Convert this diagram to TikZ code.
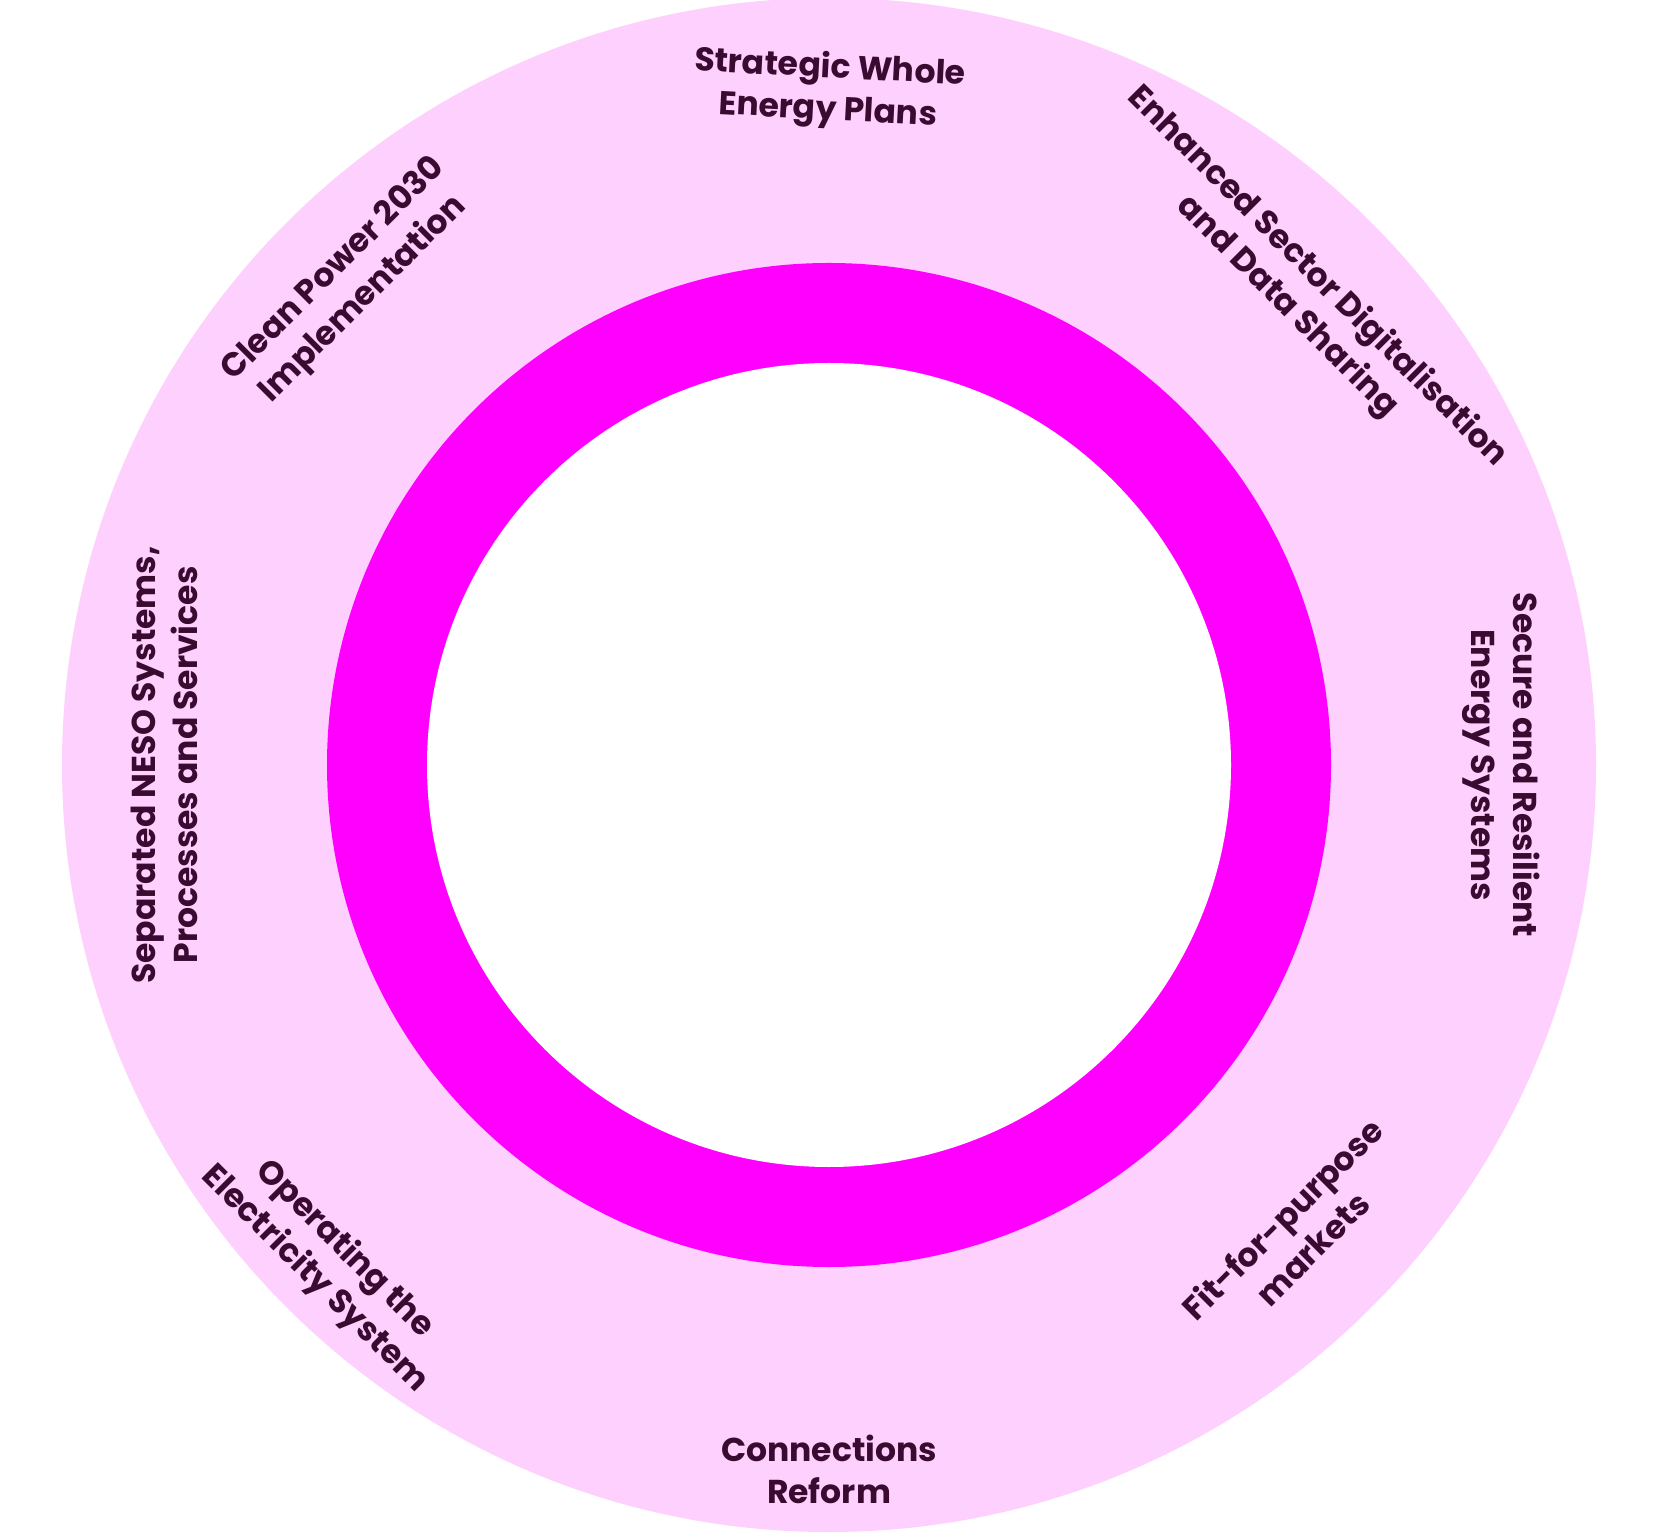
\documentclass[tikz,border=0pt]{standalone}
\usepackage{fontspec}
\setmainfont{Poppins}
\usetikzlibrary{calc}
\definecolor{ringpale}{HTML}{FDD0FD}
\definecolor{ringmag}{HTML}{FF00FF}
\definecolor{labeltext}{HTML}{3A0A30}
\begin{document}
\begin{tikzpicture}[x=1cm, y=1cm]

\tikzset{theme/.style={text=labeltext, font=\bfseries\fontsize{9.4}{12.0}\selectfont, align=center}}

\useasboundingbox (0,0) rectangle (16.54,15.35);

\coordinate (hub) at (8.29,7.70);

\fill[ringpale] (hub) circle (7.67);
\fill[ringmag] (hub) circle (5.02);
\fill[white] (hub) circle (4.02);

\node[theme, rotate=-3] (plans) at ($ (hub) + (90:6.75) $) {Strategic Whole\\Energy Plans};
\node[theme, rotate=-45] (digital) at ($ (hub) + (45:6.69) $) {Enhanced Sector Digitalisation\\and Data Sharing};
\node[theme, rotate=-90] (secure) at ($ (hub) + (0:6.72) $) {Secure and Resilient\\Energy Systems};
\node[theme, rotate=45] (markets) at ($ (hub) + (-45:6.62) $) {Fit-for-purpose\\markets};
\node[theme] (reform) at ($ (hub) + (-90:7.04) $) {Connections\\Reform};
\node[theme, rotate=-45] (operate) at ($ (hub) + (-135:7.06) $) {Operating the\\Electricity System};
\node[theme, rotate=90] (neso) at ($ (hub) + (180:6.65) $) {Separated NESO Systems,\\Processes and Services};
\node[theme, rotate=45] (clean) at ($ (hub) + (135:6.79) $) {Clean Power 2030\\Implementation};

\end{tikzpicture}
\end{document}
